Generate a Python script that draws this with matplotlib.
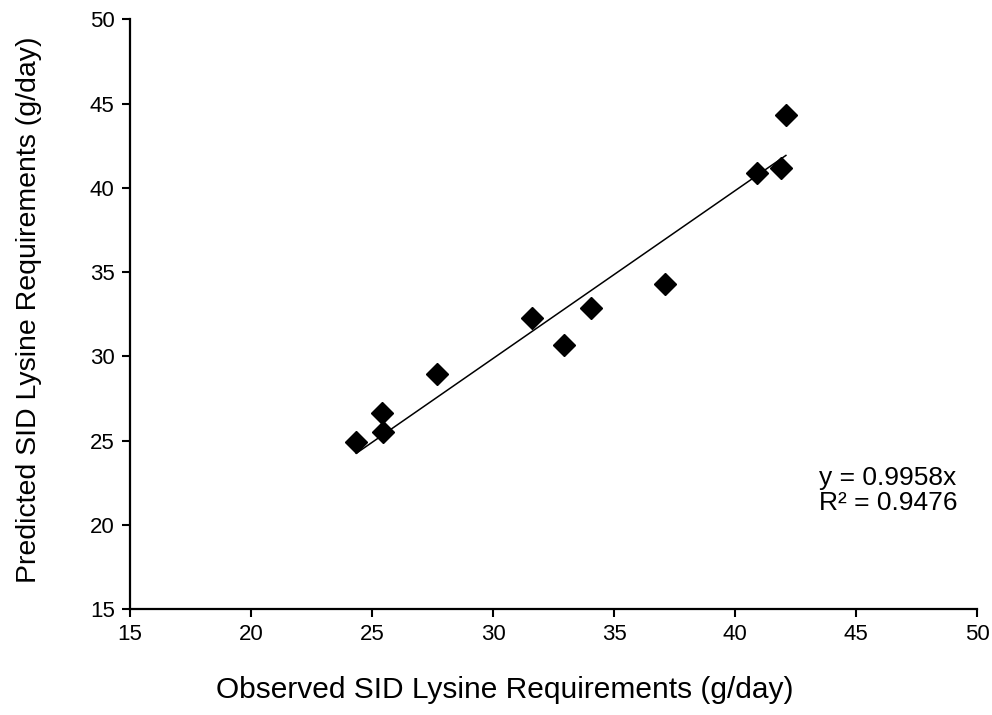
# observed vs predicted SID lysine
import numpy as np
import matplotlib.pyplot as plt

plt.rcParams['font.family'] = ['Liberation Sans', 'DejaVu Sans']

observed = [24.35, 25.4, 25.45, 27.7, 31.6, 32.95, 34.05, 37.1, 40.9, 41.9, 42.1]
predicted = [24.9, 26.65, 25.5, 28.95, 32.25, 30.7, 32.85, 34.3, 40.9, 41.2, 44.3]
slope = 0.9958
eq_text = 'y = 0.9958x\nR² = 0.9476'
ticks = [15, 20, 25, 30, 35, 40, 45, 50]

fig = plt.figure(figsize=(9.92, 7.15), dpi=100)
ax = fig.add_axes([0.131, 0.148, 0.854, 0.825])

ax.plot(observed, predicted, 'D', color='black', markersize=11, zorder=3)
xx = np.array([min(observed), max(observed)])
ax.plot(xx, slope * xx, color='black', linewidth=1.1, zorder=2)

ax.set_xlim(15, 50)
ax.set_ylim(15, 50)
ax.set_xticks(ticks)
ax.set_yticks(ticks)
ax.tick_params(direction='out', length=6, width=1.5, labelsize=16, pad=5)
for s in ['top', 'right']:
    ax.spines[s].set_visible(False)
for s in ['left', 'bottom']:
    ax.spines[s].set_linewidth(1.6)

# titles sit where excel put them, not centred on the plot area
ax.set_xlabel('Observed SID Lysine Requirements (g/day)', fontsize=21.5)
ax.set_ylabel('Predicted SID Lysine Requirements (g/day)', fontsize=20.5)
ax.xaxis.set_label_coords(0.443, -0.113)
ax.yaxis.set_label_coords(-0.104, 0.507)

ax.text(0.826, 0.314, eq_text, transform=fig.transFigure, fontsize=19,
        va='center', ha='left', linespacing=1.05)

fig.savefig('out.png', dpi=100)
